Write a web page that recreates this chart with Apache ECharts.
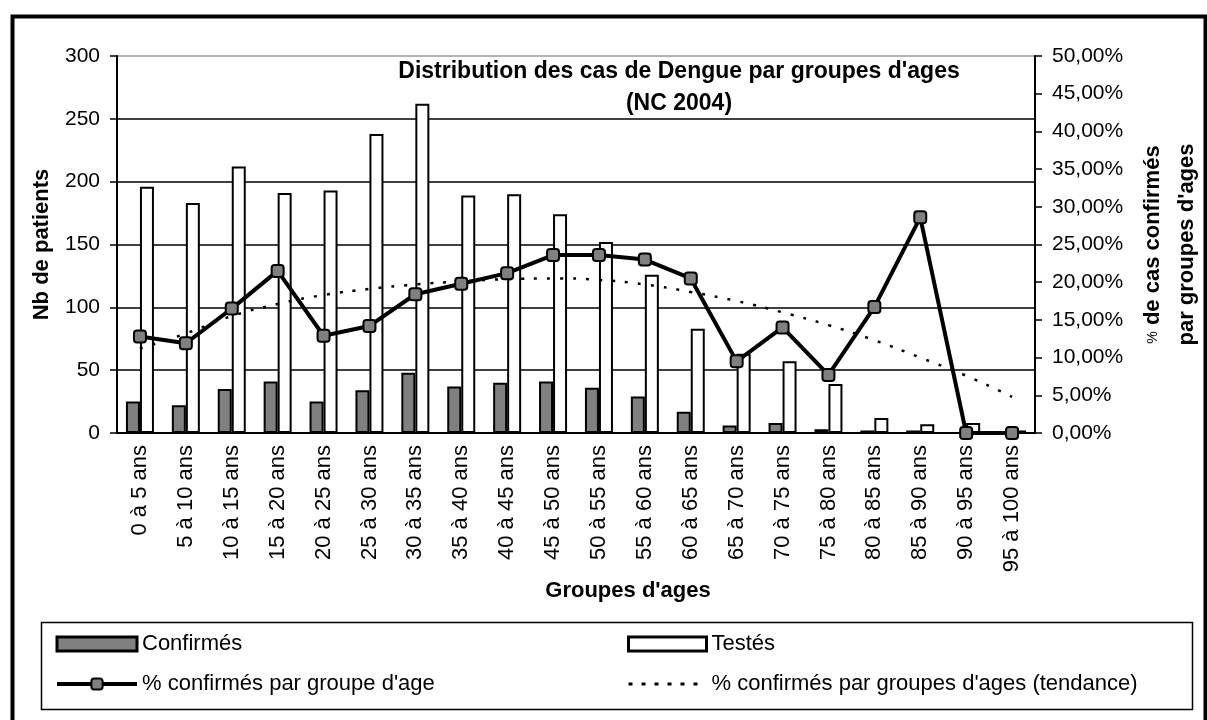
<!DOCTYPE html>
<html>
<head>
<meta charset="utf-8">
<script src="https://cdn.jsdelivr.net/npm/echarts@6/dist/echarts.min.js"></script>
<style>
  html, body { margin: 0; padding: 0; background: #fff; }
  #dengueChart { width: 1207px; height: 720px; }
</style>
</head>
<body>
<div id="dengueChart"></div>
<script>
// données
const groupes = [
  "0 à 5 ans", "5 à 10 ans", "10 à 15 ans", "15 à 20 ans", "20 à 25 ans",
  "25 à 30 ans", "30 à 35 ans", "35 à 40 ans", "40 à 45 ans", "45 à 50 ans",
  "50 à 55 ans", "55 à 60 ans", "60 à 65 ans", "65 à 70 ans", "70 à 75 ans",
  "75 à 80 ans", "80 à 85 ans", "85 à 90 ans", "90 à 95 ans", "95 à 100 ans",
];
const confirmes = [25, 22, 35, 41, 25, 34, 48, 37, 40, 41, 36, 29, 17, 6, 8, 3, 2, 2, 0, 0];
const testes = [196, 183, 212, 191, 193, 238, 262, 189, 190, 174, 152, 126, 83, 63, 57, 39, 12, 7, 8, 2];
const pctConfirmes = [12.8, 11.9, 16.5, 21.5, 12.9, 14.2, 18.4, 19.8, 21.2, 23.6, 23.6, 23.0, 20.5, 9.5, 14.0, 7.7, 16.7, 28.6, 0, 0];
const pctTendance = [11.2, 13.2, 15.5, 17.1, 18.3, 19.1, 19.7, 20.1, 20.4, 20.5, 20.3, 19.7, 18.7, 17.5, 16.0, 14.3, 12.3, 10.0, 7.6, 4.8];
const ticksPatients = [0, 50, 100, 150, 200, 250, 300];

const FONT = "Liberation Sans";
const legendText = { fontFamily: FONT, fontSize: 22, lineHeight: 24, color: "#000" };

const chart = echarts.init(document.getElementById("dengueChart"));
chart.setOption({
  animation: false,
  backgroundColor: "#fff",
  textStyle: { fontFamily: FONT, color: "#000" },
  title: {
    text: "Distribution des cas de Dengue par groupes d'ages\n(NC 2004)",
    left: 674,
    top: 51,
    textAlign: "center",
    textStyle: {
      fontFamily: FONT,
      fontSize: 23,
      fontWeight: "bold",
      lineHeight: 32,
      color: "#000",
    },
  },
  grid: { left: 117, right: 172, top: 56, bottom: 287, outerBoundsMode: "none" },
  legend: [
    {
      orient: "vertical",
      left: 50,
      top: 627,
      itemWidth: 80,
      itemHeight: 14,
      itemGap: 16,
      textStyle: legendText,
      data: [
        { name: "Confirmés", icon: "rect", itemStyle: { borderWidth: 3 } },
        { name: "% confirmés par groupe d'age", lineStyle: { width: 4 } },
      ],
    },
    {
      orient: "vertical",
      left: 622,
      top: 627,
      itemWidth: 78,
      itemHeight: 14,
      itemGap: 16,
      textStyle: legendText,
      data: [
        { name: "Testés", icon: "rect", itemStyle: { borderWidth: 3 } },
        {
          name: "% confirmés par groupes d'ages (tendance)",
          itemStyle: { opacity: 0 },
          lineStyle: { width: 3, type: [4, 9] },
        },
      ],
    },
  ],
  xAxis: {
    type: "category",
    data: groupes,
    name: "Groupes d'ages",
    nameLocation: "middle",
    nameGap: 144,
    nameTextStyle: {
      fontFamily: FONT,
      fontSize: 22,
      fontWeight: "bold",
      color: "#000",
      padding: [0, 0, 0, 104],
    },
    axisLine: { lineStyle: { color: "#000", width: 2 } },
    axisTick: { lineStyle: { color: "#000", width: 1.5 }, length: 7 },
    axisLabel: {
      rotate: 90,
      interval: 0,
      margin: 12,
      fontFamily: FONT,
      fontSize: 22,
      color: "#000",
    },
  },
  yAxis: [
    {
      type: "value",
      min: 0,
      max: 300,
      interval: 50,
      name: "Nb de patients",
      nameLocation: "middle",
      nameRotate: 90,
      nameGap: 64,
      nameTextStyle: { fontFamily: FONT, fontSize: 22, fontWeight: "bold", color: "#000" },
      axisLine: { show: true, lineStyle: { color: "#000", width: 2 } },
      axisTick: { show: true, length: 7, lineStyle: { color: "#000", width: 1.5 } },
      axisLabel: {
        margin: 17,
        fontFamily: FONT,
        fontSize: 21,
        color: "#000",
        formatter: (v) => (ticksPatients.includes(v) ? String(v) : ""),
      },
      splitLine: {
        lineStyle: {
          width: 1.5,
          // la dernière ligne (300) est le bord gris de la zone de traçage
          color: ["#000", "#000", "#000", "#000", "#000", "#000", "#999"],
        },
      },
    },
    {
      type: "value",
      min: 0,
      max: 50,
      interval: 5,
      name: "{p|%} de cas confirmés\npar groupes d'ages",
      nameLocation: "middle",
      nameRotate: 90,
      nameGap: 101,
      nameTextStyle: {
        fontFamily: FONT,
        fontSize: 22,
        fontWeight: "bold",
        lineHeight: 34,
        color: "#000",
        rich: { p: { fontFamily: FONT, fontSize: 14, fontWeight: "normal", color: "#000" } },
      },
      axisLine: { show: true, lineStyle: { color: "#000", width: 2 } },
      axisTick: { show: true, length: 7, lineStyle: { color: "#000", width: 1.5 } },
      axisLabel: {
        margin: 17,
        fontFamily: FONT,
        fontSize: 21,
        color: "#000",
        formatter: (v) => v.toFixed(2).replace(".", ",") + "%",
      },
      splitLine: { show: false },
    },
  ],
  series: [
    {
      name: "Confirmés",
      type: "bar",
      yAxisIndex: 0,
      barWidth: 14,
      barGap: "0%",
      itemStyle: { color: "#808080", borderColor: "#000", borderWidth: 2 },
      data: confirmes,
    },
    {
      name: "Testés",
      type: "bar",
      yAxisIndex: 0,
      barWidth: 14,
      itemStyle: { color: "#fff", borderColor: "#000", borderWidth: 2 },
      data: testes,
    },
    {
      name: "% confirmés par groupe d'age",
      type: "line",
      yAxisIndex: 1,
      z: 5,
      symbol: "roundRect",
      symbolSize: 12,
      lineStyle: { color: "#000", width: 4 },
      itemStyle: { color: "#808080", borderColor: "#000", borderWidth: 2 },
      data: pctConfirmes,
    },
    {
      name: "% confirmés par groupes d'ages (tendance)",
      type: "line",
      yAxisIndex: 1,
      z: 4,
      symbol: "none",
      smooth: true,
      lineStyle: { color: "#000", width: 2.5, type: [3, 10] },
      itemStyle: { color: "#000" },
      data: pctTendance,
    },
  ],
  graphic: [
    // cadre du graphique
    {
      type: "rect",
      left: 10,
      top: 14,
      shape: { width: 1193, height: 720 },
      style: { fill: null, stroke: "#000", lineWidth: 4 },
      silent: true,
    },
    // cadre de la légende
    {
      type: "rect",
      left: 39,
      top: 620,
      shape: { width: 1151, height: 87 },
      style: { fill: null, stroke: "#000", lineWidth: 1.5 },
      silent: true,
    },
  ],
});
</script>
</body>
</html>
